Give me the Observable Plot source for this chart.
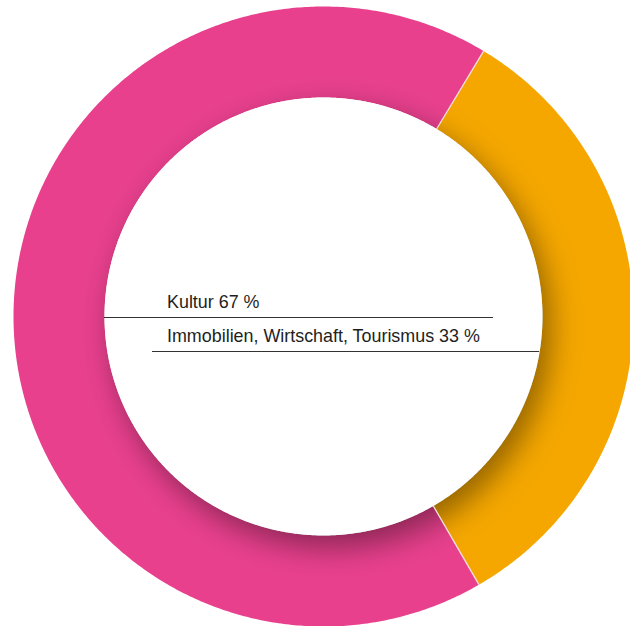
<!DOCTYPE html>
<html><head><meta charset="utf-8">
<script src="https://cdn.jsdelivr.net/npm/d3@7"></script>
<script src="https://cdn.jsdelivr.net/npm/@observablehq/plot@0.6"></script>
<style>body{margin:0;background:#fff;} #chart svg{display:block;}</style>
</head><body><div id="chart"></div>
<script>
// ---- data ----
const categories = ["Kultur", "Immobilien, Wirtschaft, Tourismus"];
const shares = [67, 33];
const colors = ["#e8408d", "#f5a700"];
const labels = categories.map((c, i) => `${c} ${shares[i]} %`);

// ---- layout ----
const W = 630, H = 626;
const CX = 323, CY = 316, R = 310;          // pixel centre & outer radius
const INNER = 219 / 310;                     // inner radius (data units)
const START_DEG = 149.9;                     // first slice starts here (clockwise from top)
const px2x = p => (p - CX) / R;
const px2y = p => (CY - p) / R;

const table = categories.map((c, i) => ({category: c, share: shares[i], label: labels[i]}));
const start = START_DEG * Math.PI / 180;
const arcs = d3.pie().sort(null).value(d => d.share).startAngle(start).endAngle(start + 2 * Math.PI)(table);

function ringPoints(a0, a1, r0, r1, key) {
  const n = Math.max(8, Math.ceil((a1 - a0) / (Math.PI / 360)));
  const pts = [];
  for (let k = 0; k <= n; k++) { const t = a0 + (a1 - a0) * k / n; pts.push({key, x: r1 * Math.sin(t), y: r1 * Math.cos(t)}); }
  for (let k = n; k >= 0; k--) { const t = a0 + (a1 - a0) * k / n; pts.push({key, x: r0 * Math.sin(t), y: r0 * Math.cos(t)}); }
  return pts;
}
function diskPoints(r, ox, oy, key) {
  const pts = [];
  for (let k = 0; k <= 720; k++) { const t = 2 * Math.PI * k / 720; pts.push({key, x: ox + r * Math.sin(t), y: oy + r * Math.cos(t)}); }
  return pts;
}

const slices = arcs.flatMap(a => ringPoints(a.startAngle, a.endAngle, INNER, 1, a.data.category));
const separators = arcs.map(a => ({x1: INNER * Math.sin(a.startAngle), y1: INNER * Math.cos(a.startAngle), x2: Math.sin(a.startAngle), y2: Math.cos(a.startAngle)}));
const shadow = diskPoints(INNER, 8 / R, -12 / R, "shadow");
const hole = diskPoints(INNER, 0, 0, "hole");

// label layout (baseline y, rule y, rule x range)
const labelRows = [
  {label: labels[0], tx: px2x(166.5), ty: px2y(307.5), ry: px2y(317), rx1: null, rx2: px2x(493)},
  {label: labels[1], tx: px2x(166.5), ty: px2y(341.5), ry: px2y(351), rx1: px2x(152), rx2: null}
];
labelRows.forEach(d => {
  const edge = Math.sqrt(INNER * INNER - d.ry * d.ry);
  if (d.rx1 === null) d.rx1 = -edge;
  if (d.rx2 === null) d.rx2 = edge;
});

const plot = Plot.plot({
  width: W, height: H, margin: 0,
  x: {domain: [px2x(0), px2x(W)], range: [0, W], axis: null},
  y: {domain: [px2y(H), px2y(0)], range: [H, 0], axis: null},
  color: {domain: categories, range: colors},
  style: {background: "#fff", overflow: "visible"},
  marks: [
    Plot.line(slices, {x: "x", y: "y", z: "key", fill: "key", stroke: null, curve: "linear"}),
    Plot.line(shadow, {x: "x", y: "y", fill: "#000", fillOpacity: 0.4, stroke: null, ariaDescription: "shadow"}),
    Plot.link(separators, {x1: "x1", y1: "y1", x2: "x2", y2: "y2", stroke: "#f4dede", strokeWidth: 1.3}),
    Plot.line(hole, {x: "x", y: "y", fill: "#fff", stroke: null}),
    Plot.ruleY(labelRows, {y: "ry", x1: "rx1", x2: "rx2", stroke: "#333", strokeWidth: 1}),
    Plot.text(labelRows, {x: "tx", y: "ty", text: "label", textAnchor: "start", lineAnchor: "bottom",
      fill: "#1e1e1e", fontSize: 17.9, fontFamily: "Liberation Sans, Arial, sans-serif"})
  ]
});

const svg = d3.select(plot);
const defs = svg.insert("defs", ":first-child");
defs.append("filter").attr("id", "shadowBlur")
  .attr("x", "-30%").attr("y", "-30%").attr("width", "160%").attr("height", "160%")
  .append("feGaussianBlur").attr("stdDeviation", 15);
svg.selectAll('g[aria-description="shadow"]').attr("filter", "url(#shadowBlur)");

document.getElementById("chart").appendChild(plot);
</script>
</body></html>
